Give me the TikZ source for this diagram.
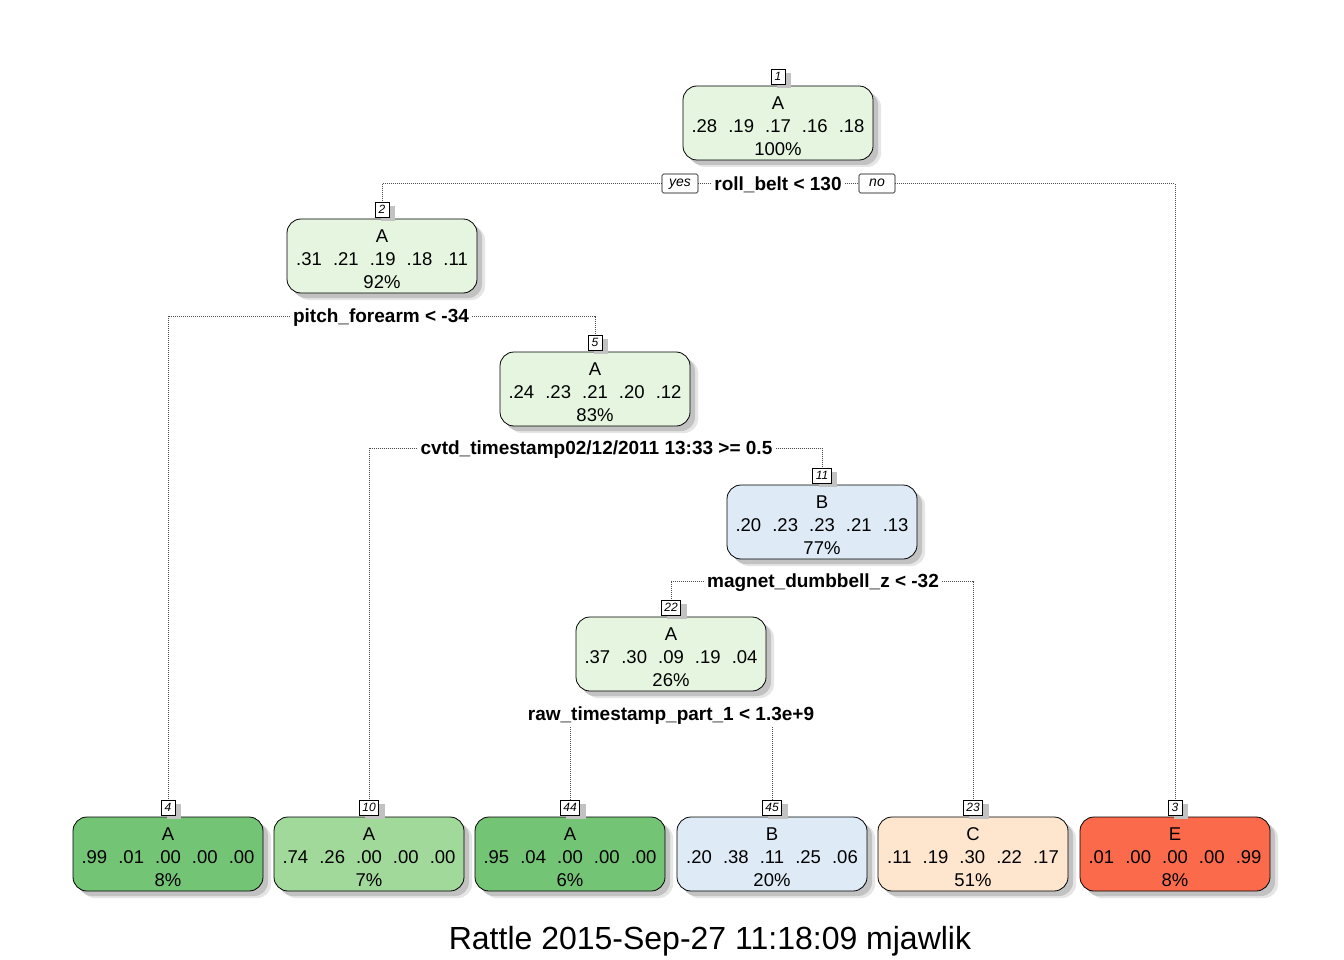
\documentclass[tikz,border=0pt]{standalone}
\usepackage{fontspec}
\setmainfont{Liberation Sans}
\usetikzlibrary{shadows}
\pgfdeclarelayer{bg}
\pgfsetlayers{bg,main}
\definecolor{lgreen}{HTML}{E5F5E0}
\definecolor{mgreen}{HTML}{A1D99B}
\definecolor{dgreen}{HTML}{74C476}
\definecolor{lblue}{HTML}{DEEBF7}
\definecolor{lorange}{HTML}{FEE6CE}
\definecolor{red1}{HTML}{FB6A4A}
\newcommand\sepx{\hspace{0.6em}}
\newcommand\topst{\rule{0pt}{19pt}}
\tikzset{
  box/.style={draw=black, line width=0.8pt, rounded corners=14pt,
    minimum width=190pt, minimum height=74pt, inner sep=0pt, align=center,
    font=\fontsize{18.5}{23}\selectfont,
    general shadow={shadow xshift=8pt, shadow yshift=-7pt, fill=black!10},
    general shadow={shadow xshift=5pt, shadow yshift=-5pt, fill=black!24}},
  numlab/.style={draw=black, fill=white, line width=0.6pt, inner sep=0pt,
    minimum height=15pt, minimum width=14pt, inner xsep=3pt,
    text height=9pt, text depth=1.5pt,
    font=\fontsize{12}{12}\selectfont\itshape,
    general shadow={shadow xshift=6pt, shadow yshift=-4pt, fill=black!24}},
  yn/.style={draw=black, fill=white, line width=0.6pt, rounded corners=1.5pt,
    minimum height=19pt, minimum width=36pt, inner sep=0pt,
    text height=10pt, text depth=3pt,
    font=\fontsize{14}{14}\selectfont\itshape},
  split/.style={fill=white, inner xsep=3pt, inner ysep=1pt,
    font=\fontsize{19}{19}\selectfont\bfseries},
  conn/.style={densely dotted, line width=1pt, draw=black!70},
}
\begin{document}
\begin{tikzpicture}[x=1pt,y=-1pt]
\useasboundingbox (0,0) rectangle (1344,960);

% internal nodes
\node[box, fill=lgreen] (n1) at (778,123) {\topst A\\.28\sepx.19\sepx.17\sepx.16\sepx.18\\100\%};
\node[box, fill=lgreen] (n2) at (382,256) {\topst A\\.31\sepx.21\sepx.19\sepx.18\sepx.11\\92\%};
\node[box, fill=lgreen] (n5) at (595,389) {\topst A\\.24\sepx.23\sepx.21\sepx.20\sepx.12\\83\%};
\node[box, fill=lblue] (n11) at (822,522) {\topst B\\.20\sepx.23\sepx.23\sepx.21\sepx.13\\77\%};
\node[box, fill=lgreen] (n22) at (671,654) {\topst A\\.37\sepx.30\sepx.09\sepx.19\sepx.04\\26\%};

% leaves
\node[box, fill=dgreen] (n4) at (168,854) {\topst A\\.99\sepx.01\sepx.00\sepx.00\sepx.00\\8\%};
\node[box, fill=mgreen] (n10) at (369,854) {\topst A\\.74\sepx.26\sepx.00\sepx.00\sepx.00\\7\%};
\node[box, fill=dgreen] (n44) at (570,854) {\topst A\\.95\sepx.04\sepx.00\sepx.00\sepx.00\\6\%};
\node[box, fill=lblue] (n45) at (772,854) {\topst B\\.20\sepx.38\sepx.11\sepx.25\sepx.06\\20\%};
\node[box, fill=lorange] (n23) at (973,854) {\topst C\\.11\sepx.19\sepx.30\sepx.22\sepx.17\\51\%};
\node[box, fill=red1] (n3) at (1175,854) {\topst E\\.01\sepx.00\sepx.00\sepx.00\sepx.99\\8\%};

% number labels
\node[numlab, anchor=south] (lab1) at ([yshift=1pt]n1.north) {1};
\node[numlab, anchor=south] (lab2) at ([yshift=1pt]n2.north) {2};
\node[numlab, anchor=south] (lab5) at ([yshift=1pt]n5.north) {5};
\node[numlab, anchor=south] (lab11) at ([yshift=1pt]n11.north) {11};
\node[numlab, anchor=south] (lab22) at ([yshift=1pt]n22.north) {22};
\node[numlab, anchor=south] (lab4) at ([yshift=1pt]n4.north) {4};
\node[numlab, anchor=south] (lab10) at ([yshift=1pt]n10.north) {10};
\node[numlab, anchor=south] (lab44) at ([yshift=1pt]n44.north) {44};
\node[numlab, anchor=south] (lab45) at ([yshift=1pt]n45.north) {45};
\node[numlab, anchor=south] (lab23) at ([yshift=1pt]n23.north) {23};
\node[numlab, anchor=south] (lab3) at ([yshift=1pt]n3.north) {3};

% split labels
\node[split] (s1) at (778,185) {roll\_belt < 130};
\node[yn] (yes) at (680,183.5) {yes};
\node[yn] (no) at (877,183.5) {no};
\node[split] (s2) at (381,318) {pitch\_forearm < -34};
\node[split] (s5) at (596.5,450) {cvtd\_timestamp02/12/2011 13:33 >= 0.5};
\node[split] (s11) at (823,583) {magnet\_dumbbell\_z < -32};
\node[split] (s22) at (671,716) {raw\_timestamp\_part\_1 < 1.3e+9};

% connectors
\begin{pgfonlayer}{bg}
\fill[white] (0,0) rectangle (1344,960);
\draw[conn] (yes.east) -- (yes.east -| s1.west);
\draw[conn] (no.west -| s1.east) -- (no.west);
\draw[conn] (yes.west) -| (lab2.north);
\draw[conn] (no.east) -| (lab3.north);
\draw[conn] ([yshift=2pt]s2.west) -| (lab4.north);
\draw[conn] ([yshift=2pt]s2.east) -| (lab5.north);
\draw[conn] ([yshift=2pt]s5.west) -| (lab10.north);
\draw[conn] ([yshift=2pt]s5.east) -| (lab11.north);
\draw[conn] ([yshift=2pt]s11.west) -| (lab22.north);
\draw[conn] ([yshift=2pt]s11.east) -| (lab23.north);
\draw[conn] (s22.center) -| (lab44.north);
\draw[conn] (s22.center) -| (lab45.north);
\end{pgfonlayer}

% title
\node[font=\fontsize{32}{32}\selectfont] (title) at (710,941) {Rattle 2015-Sep-27 11:18:09 mjawlik};
\end{tikzpicture}
\end{document}
